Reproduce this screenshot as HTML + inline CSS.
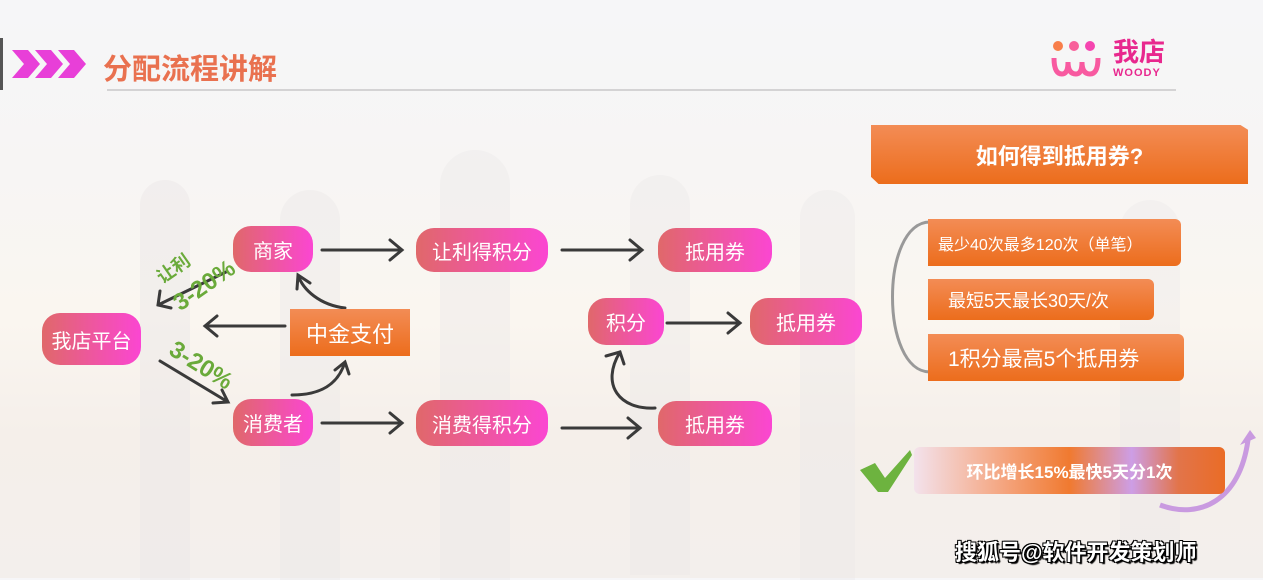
<!DOCTYPE html>
<html><head><meta charset="utf-8"><style>
body{margin:0;width:1263px;height:578px;overflow:hidden;position:relative;font-family:"Liberation Sans","Noto Sans CJK SC",sans-serif;
background:linear-gradient(180deg,#f6f6f8 0%,#f7f5f4 30%,#faf6f0 55%,#f5efea 75%,#f3efec 100%);}
.p{position:absolute;border-radius:18px;background:linear-gradient(90deg,#e0686a,#fb46d2);color:#fff;display:flex;align-items:center;justify-content:center;font-size:20px;}
.o{position:absolute;background:linear-gradient(180deg,#f38c55,#ec6d1c);color:#fff;display:flex;align-items:center;font-size:18px;border-radius:0 6px 6px 0;}
.s{position:absolute;background:#ece8e8;}
svg{position:absolute;left:0;top:0}
</style></head><body>
<div class="s" style="left:140px;top:180px;width:50px;height:400px;border-radius:25px 25px 0 0;opacity:.5"></div>
<div class="s" style="left:280px;top:190px;width:60px;height:390px;border-radius:30px 30px 0 0;opacity:.45"></div>
<div class="s" style="left:440px;top:150px;width:70px;height:430px;border-radius:35px 35px 0 0;opacity:.4"></div>
<div class="s" style="left:630px;top:175px;width:60px;height:400px;border-radius:30px 30px 0 0;opacity:.4"></div>
<div class="s" style="left:800px;top:190px;width:55px;height:390px;border-radius:28px 28px 0 0;opacity:.4"></div>
<div class="s" style="left:1120px;top:200px;width:60px;height:380px;border-radius:30px 30px 0 0;opacity:.35"></div>
<div style="position:absolute;left:0;top:38px;width:3px;height:52px;background:#555"></div>
<svg width="1263" height="578">
<g fill="#e83fd8"><polygon points="12,50 28,50 40,64 28,78 12,78 24,64"/><polygon points="35,50 51,50 63,64 51,78 35,78 47,64"/><polygon points="58,50 74,50 86,64 74,78 58,78 70,64"/></g>
<line x1="107" y1="90" x2="1176" y2="90" stroke="#c8c8c8" stroke-width="1.5"/>
<g stroke="#3a3a3a" stroke-width="3" fill="none" stroke-linecap="round">
<path d="M322 250 L402 250 M390 240 L402 250 L390 260"/>
<path d="M562 250 L642 250 M630 240 L642 250 L630 260"/>
<path d="M322 423 L402 423 M390 413 L402 423 L390 433"/>
<path d="M562 428 L640 428 M628 418 L640 428 L628 438"/>
<path d="M667 323 L740 323 M728 313 L740 323 L728 333"/>
<path d="M285 326 L205 326 M217 316 L205 326 L217 336"/>
<path d="M226 272 L158 305 M160 291 L158 305 L171 308"/>
<path d="M160 361 L228 402 M213 403 L228 402 L222 390"/>
<path d="M345 308 C320 305 303 290 298 275 M297 289 L298 275 L310 283"/>
<path d="M292 395 C320 395 338 385 345 362 M335 370 L345 362 L349 374"/>
<path d="M655 408 C620 410 600 385 620 352 M606 356 L620 352 L624 364"/>
</g>
<path d="M930 222 C880 222 880 372 930 372" stroke="#999" stroke-width="3" fill="none"/>
<path d="M1160 505 C1200 520 1240 500 1248 440" stroke="#c99ae0" stroke-width="5" fill="none"/>
<polygon points="1240,445 1256,438 1250,430" fill="#c99ae0"/>
<path d="M860 470 L875 463 L885 478 L910 450 L912 455 L888 492 L878 492 Z" fill="#6db33f"/>
</svg>
<div style="position:absolute;left:103px;top:46px;font-size:29px;font-weight:bold;color:#e9714f">分配流程讲解</div>
<div style="position:absolute;left:1050px;top:40px;width:58px;height:40px;">
<svg width="58" height="40"><circle cx="8" cy="6" r="5" fill="#f87e4a"/><circle cx="24" cy="6" r="5" fill="#f8609a"/><circle cx="40" cy="6" r="5" fill="#f545b0"/><path d="M4 18 Q4 34 12 34 Q18 34 18 22 Q18 34 26 34 Q32 34 32 22 Q32 34 40 34 Q48 34 48 18" stroke="#f85aa0" stroke-width="5" fill="none"/></svg></div>
<div style="position:absolute;left:1113px;top:38px;font-size:26px;font-weight:bold;color:#e8288e;line-height:28px">我店</div>
<div style="position:absolute;left:1113px;top:67px;font-size:11px;font-weight:bold;color:#e8288e;letter-spacing:1px">WOODY</div>
<div class="p" style="left:42px;top:313px;width:99px;height:52px">我店平台</div>
<div class="p" style="left:233px;top:226px;width:80px;height:46px">商家</div>
<div class="p" style="left:233px;top:399px;width:80px;height:47px">消费者</div>
<div class="p" style="left:416px;top:228px;width:132px;height:44px">让利得积分</div>
<div class="p" style="left:416px;top:400px;width:132px;height:46px">消费得积分</div>
<div class="p" style="left:658px;top:228px;width:114px;height:44px">抵用券</div>
<div class="p" style="left:588px;top:298px;width:76px;height:47px">积分</div>
<div class="p" style="left:750px;top:298px;width:112px;height:47px">抵用券</div>
<div class="p" style="left:658px;top:401px;width:114px;height:45px">抵用券</div>
<div class="o" style="left:290px;top:309px;width:120px;height:47px;justify-content:center;font-size:22px;border-radius:0">中金支付</div>
<div style="position:absolute;left:155px;top:255px;font-size:18px;font-weight:bold;color:#6aaa3a;transform:rotate(-35deg)">让利</div>
<div style="position:absolute;left:170px;top:272px;font-size:24px;font-weight:bold;color:#6aaa3a;transform:rotate(-35deg)">3-20%</div>
<div style="position:absolute;left:166px;top:352px;font-size:24px;font-weight:bold;color:#6aaa3a;transform:rotate(32deg)">3-20%</div>
<div style="position:absolute;left:871px;top:125px;width:377px;height:59px;background:linear-gradient(180deg,#f38c55,#ec6d1c);clip-path:polygon(0 0,98% 0,100% 8%,100% 100%,2% 100%,0 88%);color:#fff;font-size:22px;font-weight:bold;display:flex;align-items:center;justify-content:center">如何得到抵用券?</div>
<div class="o" style="left:928px;top:219px;width:253px;height:47px;padding-left:10px;box-sizing:border-box;font-size:16px">最少40次最多120次（单笔）</div>
<div class="o" style="left:928px;top:279px;width:226px;height:41px;padding-left:20px;box-sizing:border-box;font-size:18px">最短5天最长30天/次</div>
<div class="o" style="left:928px;top:334px;width:256px;height:47px;padding-left:20px;box-sizing:border-box;font-size:21px">1积分最高5个抵用券</div>
<div style="position:absolute;left:914px;top:447px;width:311px;height:47px;border-radius:6px;background:linear-gradient(90deg,#f3e2ec 0%,#f4a27a 30%,#f07a30 50%,#cd9ee6 70%,#e2744a 85%,#ea6c26 100%);color:#fff;font-size:17px;font-weight:bold;display:flex;align-items:center;justify-content:center">环比增长15%最快5天分1次</div>
<div style="position:absolute;left:955px;top:535px;font-size:22px;font-weight:bold;color:#fff;text-shadow:1px 1px 0 #000,-1px -1px 0 #000,1px -1px 0 #000,-1px 1px 0 #000,2px 2px 1px #000">搜狐号@软件开发策划师</div>
</body></html>
